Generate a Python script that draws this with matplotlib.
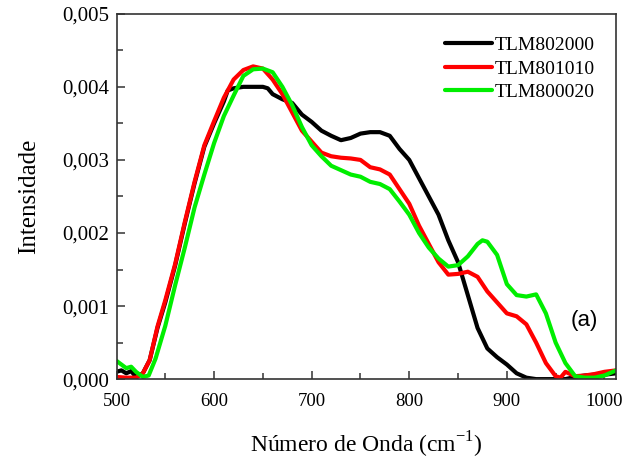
import matplotlib
matplotlib.use("Agg")
import matplotlib.pyplot as plt
import numpy as np
from matplotlib.ticker import MultipleLocator, FuncFormatter

# ---- data ----
x_black = [500, 505, 510, 515, 520, 527, 534, 542, 550, 560, 570, 580, 590, 600, 610, 614, 620, 630, 640, 650,
           655, 660, 670, 680, 690, 700, 710, 720, 730, 740, 750, 760, 770, 780, 790, 800, 810, 820, 830,
           840, 850, 860, 870, 880, 890, 900, 910, 920, 930, 940, 950, 960, 970, 980, 990, 1000, 1012]
y_black = [0.00010, 0.00012, 0.00008, 0.00011, 0.00003, 0.00008, 0.00026, 0.00070, 0.00105, 0.00155, 0.00213,
           0.00268, 0.00318, 0.00350, 0.00380, 0.00395, 0.00398, 0.00400, 0.00400, 0.00400,
           0.00398, 0.00390, 0.00383, 0.00378, 0.00362, 0.00352, 0.00340, 0.00333, 0.00327, 0.00330, 0.00336,
           0.00338, 0.00338, 0.00333, 0.00315, 0.00300, 0.00275, 0.00250, 0.00225,
           0.00190, 0.00160, 0.00115, 0.00070, 0.00042, 0.00030, 0.00020, 0.00008, 0.00002, 0.00000, 0.00000,
           0.00000, 0.00000, 0.00003, 0.00005, 0.00006, 0.00006, 0.00008]

x_red = [500, 510, 520, 527, 534, 542, 550, 560, 570, 580, 590, 600, 610, 620, 630, 640, 650, 660, 670, 680,
         690, 700, 710, 720, 730, 740, 750, 760, 770, 780, 790, 800, 810, 820, 830, 840, 850, 860, 870, 880,
         890, 900, 910, 920, 930, 940, 950, 955, 960, 970, 980, 990, 1000, 1012]
y_red = [0.00003, 0.00002, 0.00002, 0.00008, 0.00026, 0.00072, 0.00108, 0.00157, 0.00215, 0.00270, 0.00320,
         0.00353, 0.00385, 0.00410, 0.00423, 0.00428, 0.00425, 0.00410, 0.00390, 0.00365,
         0.00340, 0.00325, 0.00310, 0.00305, 0.00303, 0.00302, 0.00300, 0.00290, 0.00287, 0.00280, 0.00260,
         0.00240, 0.00210, 0.00185, 0.00160, 0.00143, 0.00144, 0.00147, 0.00140, 0.00120,
         0.00105, 0.00090, 0.00086, 0.00075, 0.00050, 0.00022, 0.00004, 0.00002, 0.00010, 0.00004, 0.00005,
         0.00007, 0.00010, 0.00012]

x_green = [500, 505, 510, 515, 520, 527, 533, 540, 550, 560, 570, 580, 590, 600, 610, 620, 630, 640, 650, 660,
           670, 680, 690, 700, 710, 720, 730, 740, 750, 760, 770, 780, 790, 800, 810, 820, 830, 840, 850,
           860, 870, 875, 880, 890, 900, 910, 920, 930, 940, 950, 960, 970, 980, 990, 1000, 1012]
y_green = [0.00025, 0.00020, 0.00015, 0.00017, 0.00010, 0.00003, 0.00005, 0.00028, 0.00073, 0.00128, 0.00180,
           0.00235, 0.00280, 0.00323, 0.00360, 0.00388, 0.00415, 0.00424, 0.00425, 0.00420,
           0.00400, 0.00375, 0.00345, 0.00320, 0.00305, 0.00292, 0.00286, 0.00280, 0.00277, 0.00270, 0.00267,
           0.00260, 0.00243, 0.00225, 0.00200, 0.00180, 0.00165, 0.00154, 0.00156,
           0.00168, 0.00185, 0.00190, 0.00188, 0.00170, 0.00130, 0.00115, 0.00113, 0.00116, 0.00090, 0.00050,
           0.00022, 0.00004, 0.00002, 0.00002, 0.00005, 0.00012]

series_labels = ["TLM802000", "TLM801010", "TLM800020"]
series_colors = ["#000000", "#ff0000", "#00ee00"]

plt.rcParams['font.family'] = ['Liberation Serif', 'DejaVu Serif']
plt.rcParams['mathtext.fontset'] = 'custom'
plt.rcParams['mathtext.rm'] = 'Liberation Serif'

fig = plt.figure(figsize=(6.23, 4.59), dpi=100)
ax = fig.add_axes([0.187, 0.174, 0.802, 0.796])

for xs, ys, lab, col in zip([x_black, x_red, x_green], [y_black, y_red, y_green], series_labels, series_colors):
    ax.plot(xs, ys, color=col, lw=3.0, label=lab, solid_joinstyle='round', solid_capstyle='round')

ax.set_xlim(500, 1012)
ax.set_ylim(0, 0.005)
ax.xaxis.set_major_locator(MultipleLocator(100))
ax.xaxis.set_minor_locator(MultipleLocator(50))
ax.yaxis.set_major_locator(MultipleLocator(0.001))
ax.yaxis.set_minor_locator(MultipleLocator(0.0005))
ax.yaxis.set_major_formatter(FuncFormatter(lambda v, p: f"{v:.3f}".replace('.', ',')))

ax.tick_params(which='both', direction='in', top=False, right=False, width=1.1, color='#333333')
ax.tick_params(which='major', length=6)
ax.tick_params(which='minor', length=4)
ax.tick_params(axis='y', pad=5, labelsize=15)
ax.tick_params(axis='x', pad=10, labelsize=13.5)
for s in ax.spines.values():
    s.set_linewidth(1.2)
    s.set_color('#333333')

ax.set_xlabel(r"Número de Onda (cm$^{\mathregular{-1}}$)", fontsize=17, labelpad=14)
ax.set_ylabel("Intensidade", fontsize=18, labelpad=16)

leg = ax.legend(loc='upper right', frameon=False, fontsize=14, handlelength=2.4, handletextpad=0.15,
                labelspacing=0.3, borderaxespad=0.3, bbox_to_anchor=(0.985, 0.975))

ax.text(0.937, 0.16, "(a)", transform=ax.transAxes, fontsize=16, family=['Liberation Sans'],
        ha='center', va='center')

fig.savefig("out.png", dpi=100)
